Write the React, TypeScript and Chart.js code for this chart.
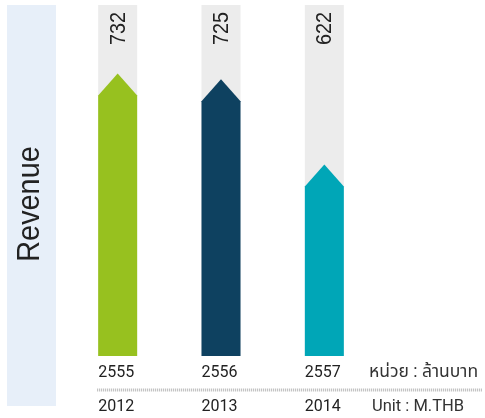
import React, { useEffect, useRef } from "react";
import { Chart, registerables } from "chart.js";

Chart.register(...registerables);

const thaiYears = ["2555", "2556", "2557"];
const gregorianYears = ["2012", "2013", "2014"];
const revenue = [732, 725, 622];
const barColors = ["#97C11F", "#0E4160", "#00A6B7"];
const axisTitle = "Revenue";
const unitLabels = ["หน่วย : ล้านบาท", "Unit : M.THB"];
const axisMin = 390;
const axisMax = 815;

const PANEL_COLOR = "#E7EFF9";
const COLUMN_COLOR = "#ECECEC";
const TEXT_COLOR = "#222222";
const SANS_FONT = "'Liberation Sans', Arial, sans-serif";
const THAI_FONT = "Roboto, 'Noto Sans Thai', 'Noto Sans', 'DejaVu Sans', sans-serif";

const infographicPlugin = {
  id: "infographic",
  beforeDatasetsDraw(chart: any) {
    const { ctx, chartArea } = chart;
    ctx.save();
    // left title panel
    ctx.fillStyle = PANEL_COLOR;
    ctx.fillRect(7, chartArea.top, 49, 406 - chartArea.top);
    ctx.translate(30, 204);
    ctx.rotate(-Math.PI / 2);
    ctx.scale(0.93, 1);
    ctx.fillStyle = TEXT_COLOR;
    ctx.font = "31px " + SANS_FONT;
    ctx.textAlign = "center";
    ctx.textBaseline = "middle";
    ctx.fillText(axisTitle, 0, 0);
    ctx.restore();

    // gray background columns
    const meta = chart.getDatasetMeta(0);
    ctx.save();
    ctx.fillStyle = COLUMN_COLOR;
    meta.data.forEach((bar: any) => {
      const { x, width, base } = bar.getProps(["x", "width", "base"], true);
      ctx.fillRect(x - width / 2, chartArea.top, width, base - chartArea.top);
    });
    ctx.restore();
  },
  beforeDatasetDraw(chart: any, args: any) {
    const { ctx } = chart;
    const meta = args.meta;
    ctx.save();
    meta.data.forEach((bar: any) => {
      const { x, y, width, base } = bar.getProps(["x", "y", "width", "base"], true);
      const half = width / 2;
      const head = 22;
      ctx.fillStyle = bar.options.backgroundColor;
      ctx.beginPath();
      ctx.moveTo(x - half, base);
      ctx.lineTo(x - half, y + head);
      ctx.lineTo(x, y);
      ctx.lineTo(x + half, y + head);
      ctx.lineTo(x + half, base);
      ctx.closePath();
      ctx.fill();
    });
    ctx.restore();
    return false;
  },
  afterDatasetsDraw(chart: any) {
    const { ctx, chartArea } = chart;
    const meta = chart.getDatasetMeta(0);
    ctx.save();
    meta.data.forEach((bar: any, i: number) => {
      const { x, width, base } = bar.getProps(["x", "width", "base"], true);
      // rotated value labels at top of column
      ctx.save();
      ctx.translate(x + 1, chartArea.top + 7);
      ctx.rotate(-Math.PI / 2);
      ctx.scale(0.9, 1);
      ctx.fillStyle = TEXT_COLOR;
      ctx.font = "22px " + SANS_FONT;
      ctx.textAlign = "right";
      ctx.textBaseline = "middle";
      ctx.fillText(String(revenue[i]), 0, 0);
      ctx.restore();

      // year labels
      ctx.fillStyle = TEXT_COLOR;
      ctx.font = "16px Roboto, sans-serif";
      ctx.textAlign = "left";
      ctx.textBaseline = "alphabetic";
      ctx.fillText(thaiYears[i], x - width / 2, base + 21);
      ctx.fillText(gregorianYears[i], x - width / 2, base + 55);
    });

    // dotted separator
    const first = meta.data[0].getProps(["x", "width", "base"], true);
    ctx.strokeStyle = "#B8B8B8";
    ctx.lineWidth = 3;
    ctx.setLineDash([1, 1]);
    ctx.beginPath();
    ctx.moveTo(first.x - first.width / 2 - 1, first.base + 34);
    ctx.lineTo(482, first.base + 34);
    ctx.stroke();
    ctx.setLineDash([]);

    // unit labels
    ctx.fillStyle = "#333333";
    ctx.textAlign = "left";
    ctx.textBaseline = "alphabetic";
    ctx.font = "17.5px " + THAI_FONT;
    ctx.fillText(unitLabels[0], 369, first.base + 21);
    ctx.font = "16.5px " + THAI_FONT;
    ctx.fillText(unitLabels[1], 372, first.base + 55);
    ctx.restore();
  },
};

export default function App() {
  const canvasRef = useRef<HTMLCanvasElement | null>(null);

  useEffect(() => {
    if (!canvasRef.current) return;
    const chart = new Chart(canvasRef.current, {
      type: "bar",
      data: {
        labels: thaiYears,
        datasets: [
          {
            label: axisTitle,
            data: revenue,
            backgroundColor: barColors,
            barThickness: 39,
            base: axisMin,
          },
        ],
      },
      options: {
        responsive: false,
        animation: false,
        events: [],
        layout: { padding: { left: 66, right: 109, top: 5, bottom: 62 } },
        plugins: {
          legend: { display: false },
          tooltip: { enabled: false },
        },
        scales: {
          x: { display: false, offset: true },
          y: { display: false, min: axisMin, max: axisMax },
        },
      },
      plugins: [infographicPlugin],
    });
    return () => chart.destroy();
  }, []);

  return (
    <div style={{ position: "fixed", left: 0, top: 0, width: 485, height: 418, background: "#fff" }}>
      <canvas ref={canvasRef} width={485} height={418} />
    </div>
  );
}
